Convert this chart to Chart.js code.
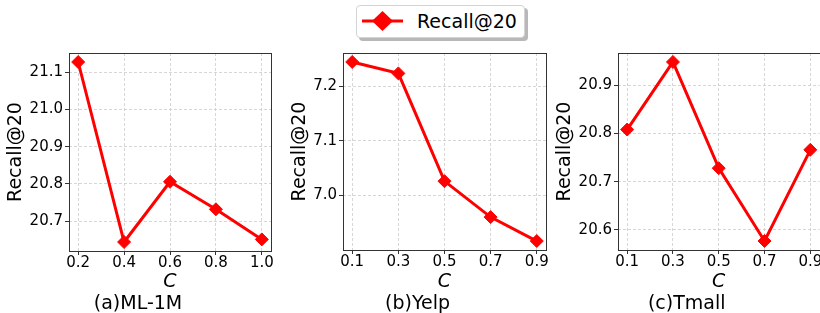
<!DOCTYPE html>
<html>
<head>
<meta charset="utf-8">
<script src="https://cdn.jsdelivr.net/npm/chart.js@4"></script>
<style>
html, body { margin: 0; padding: 0; width: 820px; height: 313px; overflow: hidden; background: #fff; font-family: "DejaVu Sans"; }
canvas { position: absolute; top: 0; }
#legend { position: absolute; left: 356px; top: 5px; width: 167px; height: 31px; border: 1px solid #d4d4d4; border-radius: 4px; background: #fff; box-shadow: 3px 3px 0 #b8b8b8; }
#legend svg { position: absolute; left: 5px; top: 0; }
#legend span { position: absolute; left: 60px; top: 4px; font-size: 19px; color: #000; }
</style>
</head>
<body>
<div id="legend">
  <svg width="44" height="31"><line x1="0" y1="15" x2="41" y2="15" stroke="#ff0000" stroke-width="3"/><polygon points="20.5,5 31,15 20.5,25 10,15" fill="#ff0000"/></svg>
  <span>Recall@20</span>
</div>
<canvas id="c1" width="276" height="313" style="left:5px"></canvas>
<canvas id="c2" width="267" height="313" style="left:289px"></canvas>
<canvas id="c3" width="276" height="313" style="left:554px"></canvas>
<script>
// data
const seriesName = 'Recall@20';
const titles = ['(a)ML-1M', '(b)Yelp', '(c)Tmall'];

const cML = [0.2, 0.4, 0.6, 0.8, 1.0];
const recallML = [21.128, 20.644, 20.806, 20.732, 20.651];
const yTicksML = [20.7, 20.8, 20.9, 21.0, 21.1];

const cYelp = [0.1, 0.3, 0.5, 0.7, 0.9];
const recallYelp = [7.245, 7.224, 7.026, 6.960, 6.916];
const yTicksYelp = [7.0, 7.1, 7.2];

const cTmall = [0.1, 0.3, 0.5, 0.7, 0.9];
const recallTmall = [20.808, 20.948, 20.728, 20.577, 20.766];
const yTicksTmall = [20.6, 20.7, 20.8, 20.9];

Chart.defaults.font.family = 'DejaVu Sans';
Chart.defaults.color = '#000';

// box around the plot area, like matplotlib spines
const frame = {
  id: 'frame',
  beforeDatasetsDraw(chart) {
    const a = chart.chartArea, ctx = chart.ctx;
    ctx.save();
    ctx.strokeStyle = '#333';
    ctx.lineWidth = 1;
    const l = Math.round(a.left) + 0.5, t = Math.round(a.top) + 0.5;
    ctx.strokeRect(l, t, Math.round(a.right) - Math.round(a.left), Math.round(a.bottom) - Math.round(a.top));
    ctx.restore();
  }
};

function margin(vals, lo) {
  const mn = Math.min(...vals), mx = Math.max(...vals), d = (mx - mn) * 0.05;
  return lo ? mn - d : mx + d;
}

function makePanel(id, xs, ys, yTicks, title, yW, xH, padR) {
  const ctx = document.getElementById(id).getContext('2d');
  return new Chart(ctx, {
    type: 'line',
    data: {
      datasets: [{
        label: seriesName,
        data: xs.map((x, i) => ({ x: x, y: ys[i] })),
        borderColor: '#ff0000',
        backgroundColor: '#ff0000',
        borderWidth: 3,
        pointStyle: 'rectRot',
        pointRadius: 6.5,
        pointBorderWidth: 1,
        tension: 0,
        clip: false
      }]
    },
    options: {
      responsive: false,
      animation: false,
      layout: { padding: { top: 53, right: padR, bottom: 0, left: 0 } },
      plugins: {
        legend: { display: false },
        tooltip: { enabled: false },
        title: {
          display: true,
          position: 'bottom',
          text: title,
          color: '#000',
          font: { size: 19, weight: 'normal', lineHeight: 0.9 },
          padding: { top: 0, bottom: 0 }
        }
      },
      scales: {
        x: {
          type: 'linear',
          min: margin(xs, true),
          max: margin(xs, false),
          afterBuildTicks: s => { s.ticks = xs.map(v => ({ value: v })); },
          afterFit: s => { s.height = xH; },
          ticks: { font: { size: 15, lineHeight: 1 }, padding: 1, maxRotation: 0, callback: v => v.toFixed(1) },
          grid: { color: '#cccccc', lineWidth: 0.8, tickLength: 4, tickColor: '#333', tickWidth: 1, tickBorderDash: [] },
          border: { display: false, dash: [3, 2] },
          title: { display: true, text: 'C', font: { size: 19, style: 'italic', lineHeight: 1 }, padding: { top: 0, bottom: 4 } }
        },
        y: {
          type: 'linear',
          min: margin(ys, true),
          max: margin(ys, false),
          afterBuildTicks: s => { s.ticks = yTicks.map(v => ({ value: v })); },
          afterFit: s => { s.width = yW; },
          ticks: { font: { size: 15 }, padding: 2, callback: v => v.toFixed(1) },
          grid: { color: '#cccccc', lineWidth: 0.8, tickLength: 4, tickColor: '#333', tickWidth: 1, tickBorderDash: [] },
          border: { display: false, dash: [3, 2] },
          title: { display: true, text: seriesName, font: { size: 19, lineHeight: 1.2 }, padding: { top: 0, bottom: 0 } }
        }
      }
    },
    plugins: [frame]
  });
}

makePanel('c1', cML, recallML, yTicksML, titles[0], 64, 44.9, 10);
makePanel('c2', cYelp, recallYelp, yTicksYelp, titles[1], 54, 45.9, 10);
makePanel('c3', cTmall, recallTmall, yTicksTmall, titles[2], 64, 45.9, 10.5);
</script>
</body>
</html>
